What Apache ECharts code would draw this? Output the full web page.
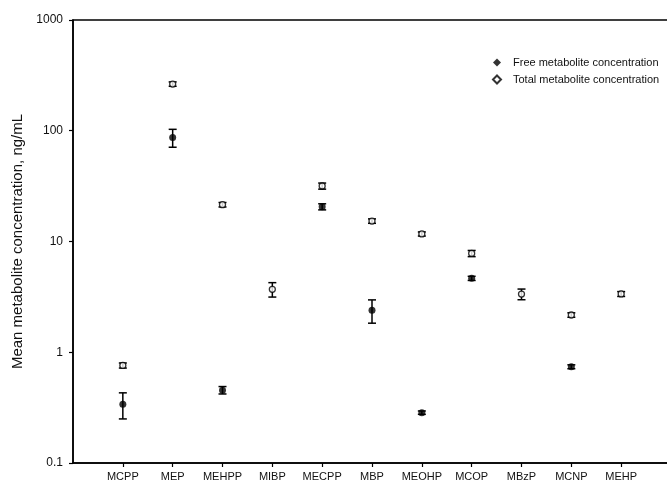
<!DOCTYPE html>
<html>
<head>
<meta charset="utf-8">
<script src="https://cdn.jsdelivr.net/npm/echarts@6/dist/echarts.min.js"></script>
<style>
  html, body { margin: 0; padding: 0; background: #fff; }
  #chart { width: 667px; height: 484px; }
</style>
</head>
<body>
<div id="chart"></div>
<script>
// 代谢物浓度（对数坐标）
var categories = ["MCPP", "MEP", "MEHPP", "MIBP", "MECPP", "MBP", "MEOHP", "MCOP", "MBzP", "MCNP", "MEHP"];

// free: null = not shown
var freeMean = [0.34, 87, 0.455, null, 20.6, 2.4, 0.285, 4.65, null, 0.74, null];
var freeErr  = [0.09, 16, 0.035, null, 1.3, 0.57, 0.01, 0.2, null, 0.03, null];

var totalMean = [0.76, 264, 21.5, 3.7, 31.7, 15.3, 11.7, 7.8, 3.35, 2.17, 3.36];
var totalErr  = [0.04, 12, 1.0, 0.55, 2.0, 0.7, 0.5, 0.5, 0.37, 0.1, 0.17];

var yTicks = [0.1, 1, 10, 100, 1000];

var toPoints = function (means) {
    var out = [];
    for (var i = 0; i < means.length; i++) {
        if (means[i] != null) out.push([i + 1, means[i]]);
    }
    return out;
};

var toBars = function (means, errs) {
    var out = [];
    for (var i = 0; i < means.length; i++) {
        if (means[i] != null) out.push([i + 1, means[i] - errs[i], means[i] + errs[i]]);
    }
    return out;
};

var renderErr = function (params, api) {
    var x = api.value(0);
    var lo = api.coord([x, api.value(1)]);
    var hi = api.coord([x, api.value(2)]);
    var cap = 4;
    var style = { stroke: "#000", lineWidth: 1.5 };
    return {
        type: "group",
        children: [
            { type: "line", shape: { x1: hi[0], y1: hi[1], x2: lo[0], y2: lo[1] }, style: style },
            { type: "line", shape: { x1: hi[0] - cap, y1: hi[1], x2: hi[0] + cap, y2: hi[1] }, style: style },
            { type: "line", shape: { x1: lo[0] - cap, y1: lo[1], x2: lo[0] + cap, y2: lo[1] }, style: style }
        ]
    };
};

var catValues = categories.map(function (c, i) { return i + 1; });

var option = {
    animation: false,
    backgroundColor: "#fff",
    grid: {
        left: 73, top: 20, width: 598, height: 443,
        outerBoundsMode: "none",
        containLabel: false,
        show: true, borderColor: "#000", borderWidth: 1.5, backgroundColor: "transparent"
    },
    legend: {
        orient: "vertical",
        left: 492, top: 57,
        padding: 0,
        itemWidth: 8, itemHeight: 8, itemGap: 6,
        textStyle: { fontFamily: "Liberation Sans, Arial", fontSize: 11, color: "#111", padding: [0, 0, 0, 7] },
        data: [
            { name: "Free metabolite concentration", icon: "diamond" },
            { name: "Total metabolite concentration", icon: "diamond" }
        ]
    },
    xAxis: {
        type: "value",
        min: 0, max: 12, interval: 1,
        splitLine: { show: false },
        axisLine: { lineStyle: { color: "#000", width: 1.5 } },
        axisTick: { length: 4, customValues: catValues, lineStyle: { color: "#000", width: 1.2 } },
        axisLabel: {
            customValues: catValues,
            margin: 8,
            fontFamily: "Liberation Sans, Arial", fontSize: 11, color: "#111",
            formatter: function (v) { return categories[v - 1] || ""; }
        }
    },
    yAxis: {
        type: "log",
        logBase: 10,
        min: 0.1, max: 1000,
        name: "Mean metabolite concentration, ng/mL",
        nameLocation: "middle",
        nameGap: 48,
        nameTextStyle: { fontFamily: "Liberation Sans, Arial", fontSize: 15, color: "#111" },
        splitLine: { show: false },
        axisLine: { show: true, lineStyle: { color: "#000", width: 1.5 } },
        axisTick: { show: true, length: 4, lineStyle: { color: "#000", width: 1.2 } },
        axisLabel: {
            margin: 10,
            fontFamily: "Liberation Sans, Arial", fontSize: 12, color: "#111",
            formatter: function (v) { return String(+v.toPrecision(3)); }
        }
    },
    series: [
        {
            name: "Free metabolite error",
            type: "custom",
            renderItem: renderErr,
            data: toBars(freeMean, freeErr),
            z: 2
        },
        {
            name: "Total metabolite error",
            type: "custom",
            renderItem: renderErr,
            data: toBars(totalMean, totalErr),
            z: 2
        },
        {
            name: "Free metabolite concentration",
            type: "scatter",
            symbol: "circle",
            symbolSize: 7,
            itemStyle: { color: "#000" },
            data: toPoints(freeMean),
            z: 5
        },
        {
            name: "Total metabolite concentration",
            type: "scatter",
            symbol: "circle",
            symbolSize: 6,
            itemStyle: { color: "#fff", borderColor: "#000", borderWidth: 1.3 },
            data: toPoints(totalMean),
            z: 5
        }
    ]
};

echarts.init(document.getElementById("chart")).setOption(option);
</script>
</body>
</html>
